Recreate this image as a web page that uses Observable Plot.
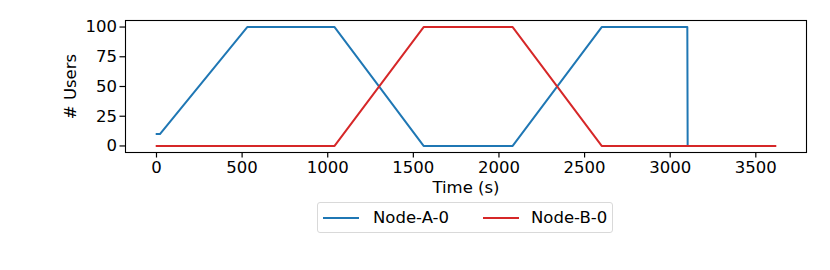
<!DOCTYPE html>
<html><head><meta charset="utf-8">
<script src="https://cdn.jsdelivr.net/npm/d3@7"></script>
<script src="https://cdn.jsdelivr.net/npm/@observablehq/plot@0.6"></script>
<style>
body{margin:0;background:#fff;font-family:"DejaVu Sans",sans-serif;}
#wrap{width:830px;}
#wrap svg{display:block;}
#lgd{margin-left:317px;margin-top:4px;width:296px;height:31px;border:1px solid #d9d9d9;border-radius:3px;box-sizing:border-box;display:flex;align-items:center;font-size:16.5px;color:#000;}
#lgd .it{display:flex;align-items:center;margin-left:5px;}
#lgd .sw{display:inline-block;width:36px;height:2px;margin-right:14px;}
</style></head>
<body><div id="wrap"></div><div id="lgd"></div>
<script>
const seriesNames = ["Node-A-0", "Node-B-0"];
const colors = ["#1f77b4", "#d62728"];
const timeA = [0, 20, 530, 1040, 1560, 2080, 2600, 3100, 3102];
const usersA = [10, 10, 100, 100, 0, 0, 100, 100, 0];
const timeB = [0, 1040, 1560, 2080, 2600, 3615];
const usersB = [0, 0, 100, 100, 0, 0];
const xTicks = [0, 500, 1000, 1500, 2000, 2500, 3000, 3500];
const yTicks = [0, 25, 50, 75, 100];

const data = [
  ...timeA.map((t, i) => ({t, u: usersA[i], s: seriesNames[0]})),
  ...timeB.map((t, i) => ({t, u: usersB[i], s: seriesNames[1]}))
];

const fs = 16.5;
const chart = Plot.plot({
  width: 830, height: 198,
  marginLeft: 125, marginRight: 24, marginTop: 20, marginBottom: 46,
  style: "font-family: 'DejaVu Sans'; font-size: 16.5px; color: #000; background: #fff;",
  x: {domain: [-181, 3796]},
  y: {domain: [-5.5, 105.5]},
  color: {domain: seriesNames, range: colors},
  marks: [
    Plot.axisX({ticks: xTicks, tickFormat: d => String(d), tickSize: 5.5, tickPadding: 3, fontSize: fs, label: null, strokeWidth: 1.2}),
    Plot.axisY({ticks: yTicks, tickFormat: d => String(d), tickSize: 5.5, tickPadding: 3, fontSize: fs, label: null, strokeWidth: 1.2}),
    Plot.text(["Time (s)"], {frameAnchor: "bottom", dy: 35, lineAnchor: "middle", textAnchor: "middle", fontSize: fs, text: d => d}),
    Plot.text(["# Users"], {frameAnchor: "left", dx: -55, rotate: -90, lineAnchor: "middle", textAnchor: "middle", fontSize: fs, text: d => d}),
    Plot.line(data, {x: "t", y: "u", z: "s", stroke: "s", strokeWidth: 2}),
    Plot.frame({stroke: "#000", strokeWidth: 1.1})
  ]
});
document.getElementById("wrap").appendChild(chart);
const lg = document.getElementById("lgd");
seriesNames.forEach((n, i) => {
  const it = document.createElement("div");
  it.className = "it";
  if (i > 0) it.style.marginLeft = "34px";
  const sw = document.createElement("span");
  sw.className = "sw";
  sw.style.background = colors[i];
  if (i > 0) sw.style.marginRight = "12px";
  const tx = document.createElement("span");
  tx.textContent = n;
  it.appendChild(sw);
  it.appendChild(tx);
  lg.appendChild(it);
});
</script></body></html>
